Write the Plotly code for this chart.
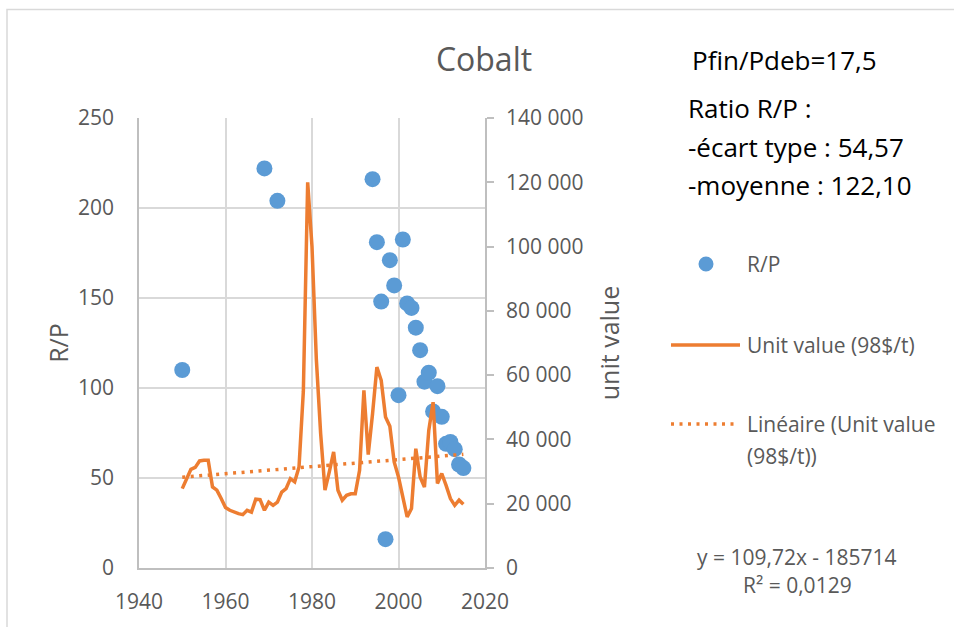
import plotly.graph_objects as go

# ---------------- data ----------------
rp_years = [1950, 1969, 1972, 1994, 1995, 1996, 1997, 1998, 1999, 2000, 2001, 2002,
            2003, 2004, 2005, 2006, 2007, 2008, 2009, 2010, 2011, 2012, 2013, 2014, 2015]
rp_values = [110, 222, 204, 216, 181, 148, 16, 171, 157, 96, 182.5, 147,
             144.5, 133.5, 121, 103.5, 108.5, 87, 101, 84, 69, 70, 66, 57.5, 55.5]

uv_years = list(range(1950, 2016))
uv_values = [24700, 27800, 30700, 31300, 33300, 33500, 33500, 25200, 24200, 21600,
             18800, 17950, 17400, 16900, 16600, 17950, 17400, 21400, 21300, 17950,
             20500, 19500, 20500, 23600, 24700, 27800, 26800, 31400, 55000, 120000,
             100000, 65000, 41800, 24200, 29900, 36100, 24200, 21100, 22600, 23100,
             23100, 30400, 55300, 35300, 48000, 62500, 58400, 47000, 44100, 33000,
             28300, 22100, 15900, 18500, 37100, 28300, 25200, 42800, 51600, 26300,
             29400, 25700, 21600, 19500, 21100, 19800]

trend_slope = 109.72
trend_intercept = -185714

x_ticks = [1940, 1960, 1980, 2000, 2020]
y1_ticks = [0, 50, 100, 150, 200, 250]
y2_ticks = [0, 20000, 40000, 60000, 80000, 100000, 120000, 140000]

# ---------------- style ----------------
BLUE = "#5B9BD5"
ORANGE = "#ED7D31"
GRAY_TXT = "#595959"
GRID = "#D9D9D9"
AXIS = "#BFBFBF"
FONT = "Open Sans, sans-serif"

W, H = 954, 627
L, R, T, B = 139, 485, 118, 568


def px(x):
    return (x - L) / (R - L)


def py(y):
    return (B - y) / (B - T)


trend_x = [uv_years[0], uv_years[-1]]
trend_y = [trend_slope * x + trend_intercept for x in trend_x]

DOT = "3px,5.5px"

fig = go.Figure()
fig.add_trace(go.Scatter(x=rp_years, y=rp_values, mode="markers", name="R/P",
                         marker=dict(color=BLUE, size=16, line=dict(width=0)),
                         yaxis="y", showlegend=False))
fig.add_trace(go.Scatter(x=uv_years, y=uv_values, mode="lines", name="Unit value (98$/t)",
                         line=dict(color=ORANGE, width=3.5), yaxis="y2", showlegend=False))
fig.add_trace(go.Scatter(x=trend_x, y=trend_y, mode="lines",
                         name="Linéaire (Unit value (98$/t))",
                         line=dict(color=ORANGE, width=3.5, dash=DOT),
                         yaxis="y2", showlegend=False))

shapes = [
    # chart border
    dict(type="rect", xref="paper", yref="paper", x0=px(7), x1=px(W + 5),
         y0=py(H + 5), y1=py(9.5), line=dict(color=GRID, width=1.5), layer="below"),
    # legend symbols
    dict(type="circle", xref="paper", yref="paper", x0=px(706 - 7.5), x1=px(706 + 7.5),
         y0=py(264 + 7.5), y1=py(264 - 7.5), fillcolor=BLUE, line=dict(width=0)),
    dict(type="line", xref="paper", yref="paper", x0=px(671), x1=px(740),
         y0=py(345), y1=py(345), line=dict(color=ORANGE, width=3.5)),
    dict(type="line", xref="paper", yref="paper", x0=px(671), x1=px(737),
         y0=py(424), y1=py(424), line=dict(color=ORANGE, width=3.5, dash=DOT)),
]

ann = []


def text(x, y, s, size, color, xanchor="left"):
    ann.append(dict(x=px(x), y=py(y), xref="paper", yref="paper", text=s, showarrow=False,
                    xanchor=xanchor, yanchor="middle",
                    align=xanchor if xanchor != "center" else "center",
                    font=dict(family=FONT, size=size, color=color)))


text(690, 60, "Pfin/Pdeb=17,5", 26, "#000000")
text(686, 108, "Ratio R/P :", 26, "#000000")
text(686, 147, "-écart type : 54,57", 26, "#000000")
text(686, 185, "-moyenne : 122,10", 26, "#000000")
text(745, 264, "R/P", 21, GRAY_TXT)
text(745, 345, "Unit value (98$/t)", 21, GRAY_TXT)
text(745, 424, "Linéaire (Unit value", 21, GRAY_TXT)
text(745, 456, "(98$/t))", 21, GRAY_TXT)
text(797, 557, "y = 109,72x - 185714", 21, GRAY_TXT, "center")
text(797, 585, "R² = 0,0129", 21, GRAY_TXT, "center")

fig.update_layout(
    width=W, height=H,
    paper_bgcolor="white", plot_bgcolor="white",
    margin=dict(l=L, r=W - R, t=T, b=H - B, autoexpand=False),
    separators=", ",
    font=dict(family=FONT, color=GRAY_TXT, size=21),
    title=dict(text="Cobalt", x=484 / W, xref="container", xanchor="center",
               y=1 - 60 / H, yref="container", yanchor="middle",
               font=dict(family=FONT, size=32, color=GRAY_TXT)),
    xaxis=dict(range=[1940, 2020], tickvals=x_ticks, showgrid=True, gridcolor=GRID,
               gridwidth=1.5, showline=True, linecolor=AXIS, linewidth=1.5, ticks="",
               zeroline=False, tickfont=dict(size=21, color=GRAY_TXT),
               ticklabelstandoff=14),
    yaxis=dict(range=[0, 250], tickvals=y1_ticks, showgrid=True, gridcolor=GRID,
               gridwidth=1.5, showline=True, linecolor=AXIS, linewidth=1.5, ticks="",
               zeroline=False, tickfont=dict(size=21, color=GRAY_TXT),
               ticklabelstandoff=19,
               title=dict(text="R/P", font=dict(size=25, color=GRAY_TXT), standoff=2)),
    yaxis2=dict(range=[0, 140000], tickvals=y2_ticks, overlaying="y", side="right",
                showgrid=False, showline=True, linecolor=AXIS, linewidth=1.5,
                ticks="outside", ticklen=7, tickcolor=AXIS, tickwidth=1.5,
                tickformat=",.0f", zeroline=False,
                tickfont=dict(size=21, color=GRAY_TXT), ticklabelstandoff=8,
                title=dict(text="unit value", font=dict(size=25, color=GRAY_TXT), standoff=19)),
    shapes=shapes,
    annotations=ann,
    showlegend=False,
)

fig.write_html("out.html", config={"displayModeBar": False},
               post_script="document.body.style.margin='0px';")
